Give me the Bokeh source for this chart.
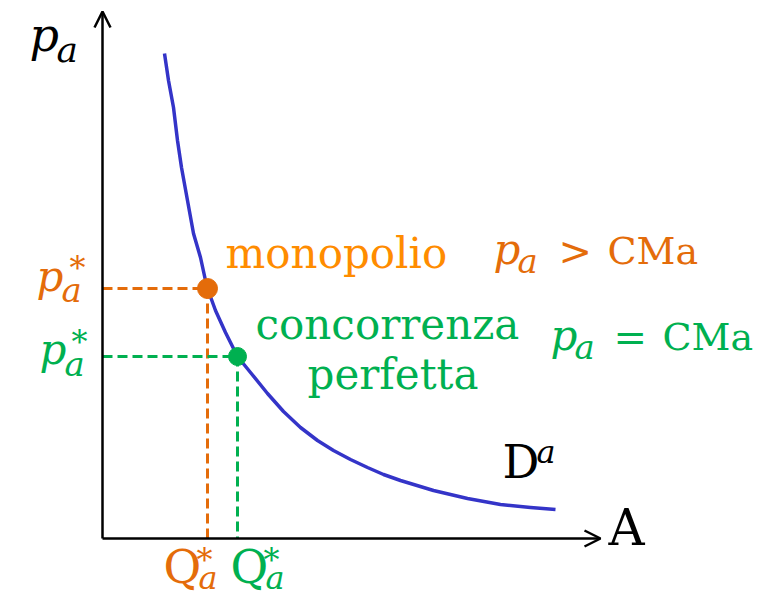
from bokeh.plotting import figure
from bokeh.models import Range1d, Label, Arrow, OpenHead
from bokeh.embed import file_html
from bokeh.resources import INLINE

# ---- data (axis units: origin at the axes corner) ----
demand_q = [62, 66, 71, 75, 79, 85, 91, 98, 103, 105, 113, 123, 135, 148, 165, 181,
            198, 215, 231, 248, 265, 281, 298, 331, 365, 398, 428, 453]
demand_p = [485, 458, 431, 398, 371, 338, 305, 281, 258, 250, 228, 206, 182, 166, 145, 127,
            111, 98, 88, 79, 71, 64, 58, 48, 40, 34, 31, 29]
mono_q, mono_p = 105, 250
comp_q, comp_p = 135, 182
x_axis_end, y_axis_end = 498, 527

BLUE = "#3434C8"
ORANGE = "#E46C0A"
LIGHT_ORANGE = "#FF8C00"
GREEN = "#00B050"
SERIF = "DejaVu Serif"

OX, OY = 102, 538  # axes corner in page pixels (used only for text placement)
W, H = 770, 597
BASE_FIX = 0.3     # renderer places the alphabetic baseline a bit low

p = figure(width=W, height=H, output_backend="svg", toolbar_location=None,
           x_range=Range1d(0 - OX, W - OX), y_range=Range1d(OY - H, OY - 0),
           min_border=0)
p.axis.visible = False
p.grid.visible = False
p.outline_line_color = None
p.background_fill_color = "white"
p.border_fill_color = "white"

# axes with arrows
p.add_layout(Arrow(end=OpenHead(size=16, line_width=2.5, line_color="black"),
                   x_start=0, y_start=0, x_end=0, y_end=y_axis_end,
                   line_width=2.5, line_color="black"))
p.add_layout(Arrow(end=OpenHead(size=16, line_width=2.5, line_color="black"),
                   x_start=0, y_start=0, x_end=x_axis_end, y_end=0,
                   line_width=2.5, line_color="black"))

# dashed guides
p.line([0, mono_q], [mono_p, mono_p], line_color=ORANGE, line_width=3, line_dash="10 5")
p.line([mono_q, mono_q], [mono_p, 0], line_color=ORANGE, line_width=3, line_dash="10 5")
p.line([0, comp_q], [comp_p, comp_p], line_color=GREEN, line_width=3, line_dash="10 5")
p.line([comp_q, comp_q], [comp_p, 0], line_color=GREEN, line_width=3, line_dash="10 5")

# demand curve
p.line(demand_q, demand_p, line_color=BLUE, line_width=3.5, line_join="round")

# equilibrium points
p.scatter([mono_q], [mono_p], size=20, color=ORANGE)
p.scatter([comp_q], [comp_p], size=18, color=GREEN)


def txt(px, py, s, size, color="black", style="normal"):
    p.add_layout(Label(x=px - OX, y=OY - py + BASE_FIX * size, text=s, text_font=SERIF,
                       text_font_size=f"{size}px", text_color=color,
                       text_font_style=style, text_baseline="alphabetic",
                       text_align="left"))


# y-axis label p_a
txt(29, 48, "p", 46, style="italic")
txt(56, 60, "a", 36, style="italic")
# x-axis label
txt(608, 542, "A", 50)
# demand label D^a
txt(502, 475, "D", 46)
txt(536, 461, "a", 32, style="italic")

# p_a* orange and green
txt(36, 289, "p", 42, ORANGE, "italic")
txt(61, 300, "a", 34, ORANGE, "italic")
txt(69, 277, "*", 32, ORANGE)
txt(39, 362, "p", 42, GREEN, "italic")
txt(64, 374, "a", 34, GREEN, "italic")
txt(71, 351, "*", 32, GREEN)

# Q_a* orange and green
txt(163, 580, "Q", 46, ORANGE)
txt(198, 587, "a", 32, ORANGE, "italic")
txt(196, 569, "*", 32, ORANGE)
txt(230, 580, "Q", 46, GREEN)
txt(265, 587, "a", 32, GREEN, "italic")
txt(263, 569, "*", 32, GREEN)

# market labels
txt(225, 266, "monopolio", 42, LIGHT_ORANGE)
txt(255, 337, "concorrenza", 42, GREEN)
txt(307, 387, "perfetta", 42, GREEN)

# conditions
txt(493, 262, "p", 42, ORANGE, "italic")
txt(517, 271, "a", 34, ORANGE, "italic")
txt(558, 262, ">", 40, ORANGE)
txt(607, 262, "CMa", 38, ORANGE)
txt(550, 348, "p", 42, GREEN, "italic")
txt(574, 357, "a", 34, GREEN, "italic")
txt(613, 348, "=", 40, GREEN)
txt(662, 348, "CMa", 38, GREEN)

open("out.html", "w").write(file_html(p, INLINE))
